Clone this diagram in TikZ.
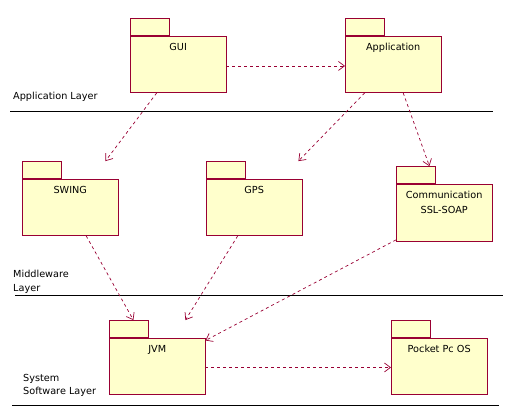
\documentclass[tikz,border=0pt]{standalone}
\usepackage{fontspec}
\setmainfont{DejaVu Sans}
\usetikzlibrary{arrows.meta}
\definecolor{pkgline}{RGB}{153,0,51}
\definecolor{pkgfill}{RGB}{255,255,204}
\tikzset{
    body/.style={draw=pkgline, fill=pkgfill, line width=0.9pt, rectangle, anchor=north west, minimum width=95.5pt, minimum height=56pt, inner sep=0pt},
    tab/.style={draw=pkgline, fill=pkgfill, line width=0.9pt, rectangle, anchor=south west, minimum width=38.5pt, minimum height=17pt, inner sep=0pt},
    pkgname/.style={anchor=base, inner sep=0pt, align=center},
    layername/.style={anchor=base west, inner sep=0pt, align=left},
    dep/.style={draw=pkgline, line width=0.7pt, dash pattern=on 3pt off 3pt, -{Straight Barb[length=6pt,width=9pt,line width=0.7pt]}},
    layer/.style={draw=black, line width=0.9pt}
}
\begin{document}
\begin{tikzpicture}[x=1pt, y=-1pt, font=\fontsize{9.7}{14.5}\selectfont]
    \useasboundingbox (0,0) rectangle (515,413);

    % packages
    \node[body] (gui) at (130,36) {};
    \node[tab] (guitab) at (gui.north west) {};
    \node[pkgname] (guitxt) at ([yshift=-14pt]gui.north) {GUI};

    \node[body] (app) at (345,36) {};
    \node[tab] (apptab) at (app.north west) {};
    \node[pkgname] (apptxt) at ([yshift=-14pt]app.north) {Application};

    \node[body] (swing) at (22,179) {};
    \node[tab] (swingtab) at (swing.north west) {};
    \node[pkgname] (swingtxt) at ([yshift=-14pt]swing.north) {SWING};

    \node[body] (gps) at (206,179) {};
    \node[tab] (gpstab) at (gps.north west) {};
    \node[pkgname] (gpstxt) at ([yshift=-14pt]gps.north) {GPS};

    \node[body, minimum height=57pt] (comm) at (396,184) {};
    \node[tab] (commtab) at (comm.north west) {};
    % base of a two-line node is its last line
    \node[pkgname, font=\fontsize{9.7}{15}\selectfont] (commtxt) at ([yshift=-29.3pt]comm.north) {Communication\\SSL-SOAP};

    \node[body] (jvm) at (109,338) {};
    \node[tab] (jvmtab) at (jvm.north west) {};
    \node[pkgname] (jvmtxt) at ([yshift=-14.3pt]jvm.north) {JVM};

    \node[body] (pocket) at (391,338) {};
    \node[tab] (pockettab) at (pocket.north west) {};
    \node[pkgname] (pockettxt) at ([yshift=-14.3pt]pocket.north) {Pocket Pc OS};

    % layers
    \node[layername] (applayer) at (13,99) {Application Layer};
    \node[layername, font=\fontsize{9.7}{13.6}\selectfont] (midlayer) at (13,291.3) {Middleware\\Layer};
    \node[layername, font=\fontsize{9.7}{13.3}\selectfont] (syslayer) at (23,394.3) {System\\Software Layer};
    \draw[layer] (10,111) -- (493,111);
    \draw[layer] (15,295.3) -- (503,295.3);
    \draw[layer] (12,405.3) -- (499,405.3);

    % dependencies
    \coordinate (swingend) at ([xshift=44pt]swingtab.north east);
    \coordinate (gpsend) at ([xshift=53pt]gpstab.north east);
    \coordinate (jvmend) at ([xshift=37pt]jvmtab.north east);

    \draw[dep] ([yshift=-1.5pt]gui.east) -- ([yshift=-1.5pt]app.west);
    \draw[dep] ([xshift=-21.5pt]gui.south) -- (swingend);
    \draw[dep] ([xshift=-28.5pt]app.south) -- (gpsend);
    \draw[dep] ([xshift=10pt]app.south) -- ([xshift=-6pt]commtab.north east);
    \draw[dep] ([xshift=16pt]swing.south) -- ([xshift=-15pt]jvmtab.north east);
    \draw[dep] ([xshift=-16.5pt]gps.south) -- (jvmend);
    \draw[dep] ([yshift=2pt]comm.south west) -- ([yshift=-2.5pt]jvm.north east);
    \draw[dep] ([yshift=-1pt]jvm.east) -- ([yshift=-1pt]pocket.west);
\end{tikzpicture}
\end{document}
